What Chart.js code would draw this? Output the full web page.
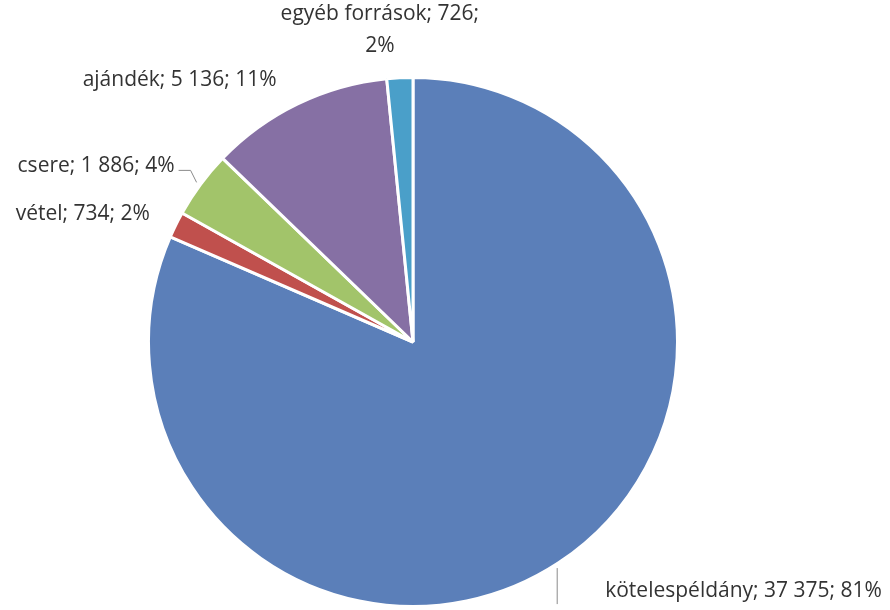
<!DOCTYPE html>
<html>
<head>
<meta charset="utf-8">
<script src="https://cdn.jsdelivr.net/npm/chart.js@4"></script>
<style>
  html, body { margin: 0; padding: 0; background: #fff; }
  #wrap { width: 890px; height: 610px; }
</style>
</head>
<body>
<div id="wrap"><canvas id="pie"></canvas></div>
<script>
// =====================
// Data
// =====================
const categories = ["kötelespéldány", "vétel", "csere", "ajándék", "egyéb források"]
const counts = [37375, 734, 1886, 5136, 726]
const percents = ["81%", "2%", "4%", "11%", "2%"]
const countLabels = ["37 375", "734", "1 886", "5 136", "726"]

const colors = ["#5b7fb9", "#c0504d", "#a2c46a", "#8670a4", "#4a9fc9"]


// =====================
// Label layout (offset from slice edge point)
// =====================
const oneLine = i => [`${categories[i]}; ${countLabels[i]}; ${percents[i]}`]

const labelLayout = [
  { dx: 47, dy: 28, align: "left", lines: oneLine },
  { dx: -26, dy: -11, align: "right", lines: oneLine },
  { dx: -26, dy: -18, align: "right", lines: oneLine },
  { dx: -21, dy: -24, align: "right", lines: oneLine },
  { dx: -20, dy: -64, align: "center", lines: i => [`${categories[i]}; ${countLabels[i]};`, percents[i]] }
]

const labelPlugin = {
  id: "sliceLabels",
  afterDatasetsDraw(chart) {
    const ctx = chart.ctx
    const arcs = chart.getDatasetMeta(0).data
    ctx.save()
    ctx.font = "21px 'Open Sans', sans-serif"
    ctx.fillStyle = "#333333"
    ctx.textBaseline = "middle"

    arcs.forEach((arc, i) => {
      const mid = (arc.startAngle + arc.endAngle) / 2
      const ex = arc.x + Math.cos(mid) * arc.outerRadius
      const ey = arc.y + Math.sin(mid) * arc.outerRadius
      const lay = labelLayout[i]
      ctx.textAlign = lay.align
      lay.lines(i).forEach((t, k) => {
        ctx.fillText(t, ex + lay.dx, ey + lay.dy + k * 32)
      })

      // leader lines
      ctx.strokeStyle = "#8a8a8a"
      ctx.lineWidth = 1
      if (i === 0) {
        ctx.beginPath()
        ctx.moveTo(ex - 1, ey + 5)
        ctx.lineTo(ex - 1, ey + 41)
        ctx.stroke()
      }
      if (i === 2) {
        ctx.beginPath()
        ctx.moveTo(ex - 22, ey - 14)
        ctx.lineTo(ex - 10, ey - 14)
        ctx.lineTo(ex - 4, ey - 2)
        ctx.stroke()
      }
    })
    ctx.restore()
  }
}


// =====================
// Build chart
// =====================
new Chart(document.getElementById("pie"), {
  type: "pie",
  data: {
    labels: categories,
    datasets: [{
      data: counts,
      backgroundColor: colors,
      borderColor: "#ffffff",
      borderWidth: 3
    }]
  },
  options: {
    responsive: true,
    maintainAspectRatio: false,
    animation: false,
    layout: {
      padding: { top: 76, bottom: 2, left: 145, right: 209 }
    },
    plugins: {
      legend: { display: false },
      tooltip: { enabled: false }
    }
  },
  plugins: [labelPlugin]
})
</script>
</body>
</html>
